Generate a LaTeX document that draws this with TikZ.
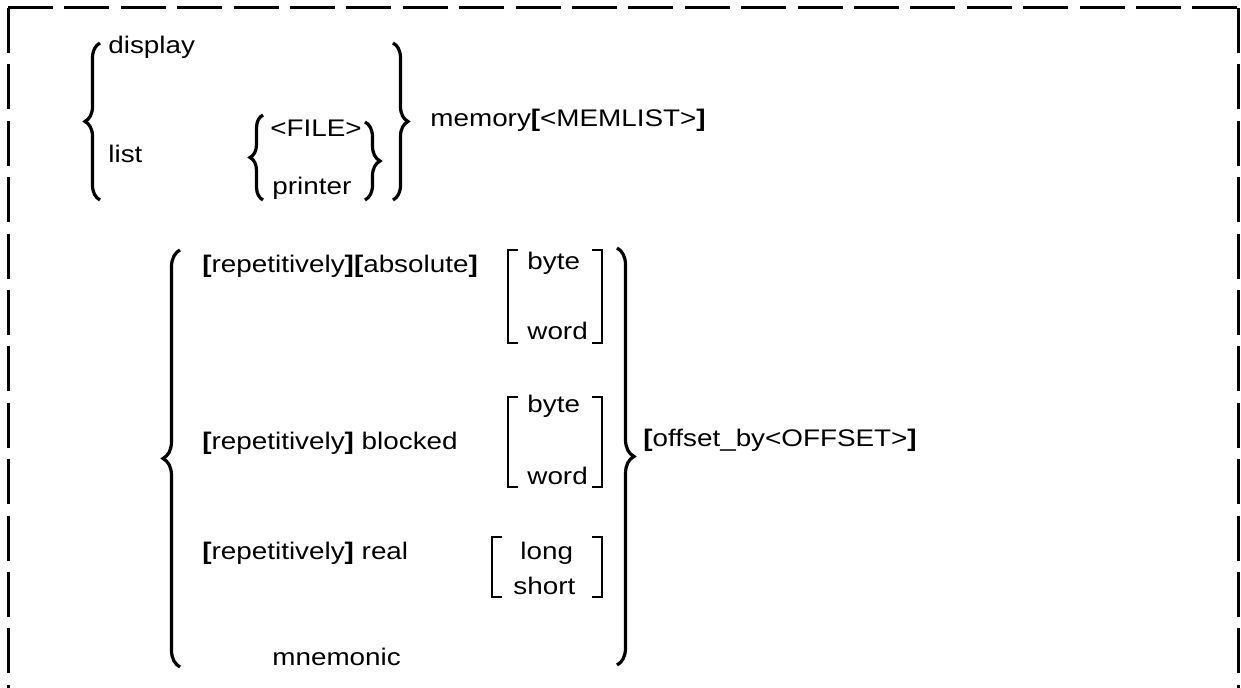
\documentclass[tikz,border=0pt]{standalone}
\usepackage{fontspec}
\setmainfont{Liberation Sans}[FakeStretch=1.16]
\usepackage{tikz}
\usetikzlibrary{decorations.pathreplacing}
\tikzset{
  syn/.style={anchor=base west, inner sep=0pt, font=\fontsize{12}{14}\selectfont},
  curly/.style={decorate, decoration={brace, amplitude=#1}, line width=1.6pt},
  square/.style={line width=0.9pt},
  frame/.style={line width=1.5pt, dash pattern=on 22.5pt off 5.7pt}
}

\begin{document}
\begin{tikzpicture}[x=0.5pt, y=-0.5pt]
\useasboundingbox (0,0) rectangle (1241,688);
\clip (0,0) rectangle (1241,688);

% Frame
\draw[frame] (8,8) -- (8,700);
\draw[frame] (8,8) -- (1238,8);
\draw[frame] (1238,8) -- (1238,700);

% Display / list memory
\draw[curly=7.5pt] (100,200) -- (100,43);
\node[syn] (display) at (108,54) {display};
\node[syn] (list) at (108,163) {list};
\draw[curly=6.5pt] (263,200) -- (263,115);
\node[syn] (file) at (270,137) {<FILE>};
\node[syn] (printer) at (272,195) {printer};
\draw[curly=7.5pt] (365,122) -- (365,200);
\draw[curly=7.5pt] (393,43) -- (393,200);
\node[syn] (memory) at (430,127) {memory\textbf{[}<MEMLIST>\textbf{]}};

% Modes
\draw[curly=8.5pt] (180,667) -- (180,250);
\node[syn] (absolute) at (202,273) {\textbf{[}repetitively\textbf{][}absolute\textbf{]}};
\draw[square] (518,250) -- (508,250) -- (508,343) -- (518,343);
\node[syn] (absbyte) at (527,270) {byte};
\node[syn] (absword) at (527,340) {word};
\draw[square] (592,250) -- (602,250) -- (602,343) -- (592,343);

\node[syn] (blocked) at (202,450) {\textbf{[}repetitively\textbf{]} blocked};
\draw[square] (518,397) -- (508,397) -- (508,487) -- (518,487);
\node[syn] (blkbyte) at (527,413) {byte};
\node[syn] (blkword) at (527,485) {word};
\draw[square] (592,397) -- (602,397) -- (602,487) -- (592,487);

\node[syn] (real) at (202,560) {\textbf{[}repetitively\textbf{]} real};
\draw[square] (502,537) -- (492,537) -- (492,597) -- (502,597);
\node[syn] (long) at (520,560) {long};
\node[syn] (short) at (513,595) {short};
\draw[square] (592,537) -- (602,537) -- (602,597) -- (592,597);

\node[syn] (mnemonic) at (272,665) {mnemonic};
\draw[curly=8.5pt] (617,248) -- (617,665);
\node[syn] (offset) at (643,447) {\textbf{[}offset\_by<OFFSET>\textbf{]}};
\end{tikzpicture}
\end{document}
